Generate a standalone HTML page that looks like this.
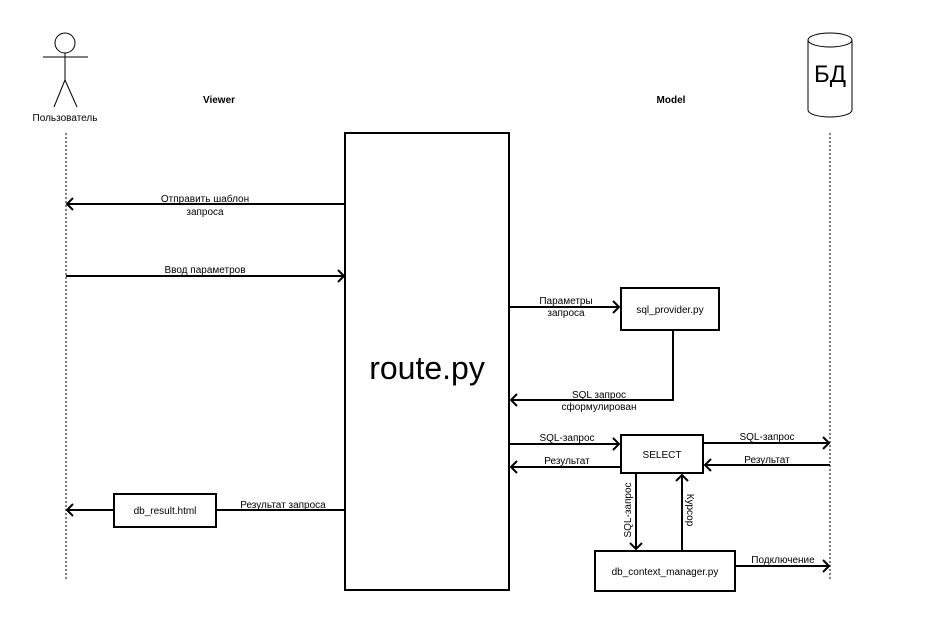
<!DOCTYPE html>
<html><head><meta charset="utf-8"><style>body{margin:0;background:#fff}svg{display:block}text{font-family:"Liberation Sans","DejaVu Sans",sans-serif;font-size:10px;fill:#000}</style></head><body>
<svg width="929" height="637" viewBox="0 0 929 637" xmlns="http://www.w3.org/2000/svg">
<g stroke="#000" fill="none">
<circle cx="65" cy="43" r="10"/>
<line x1="65" y1="53" x2="65" y2="80"/><line x1="43" y1="57" x2="88" y2="57"/>
<line x1="65" y1="80" x2="54" y2="107"/><line x1="65" y1="80" x2="77" y2="107"/>
<line x1="66" y1="133" x2="66" y2="580" stroke-dasharray="2,2"/>
<line x1="830" y1="133" x2="830" y2="580" stroke-dasharray="2,2"/>
<path d="M808 40 A22 7 0 0 1 852 40 L852 110 A22 7 0 0 1 808 110 Z"/>
<path d="M808 40 A22 7 0 0 0 852 40"/>
</g>
<g stroke="#000" stroke-width="2" fill="none">
<rect x="345" y="133" width="164" height="457" fill="#fff"/>
<rect x="621" y="288" width="98" height="42"/>
<rect x="621" y="435" width="82" height="38"/>
<rect x="595" y="551" width="140" height="40"/>
<rect x="114" y="494" width="102" height="33"/>
<line x1="345" y1="204" x2="67" y2="204"/><path d="M73 198 L67 204 L73 210"/>
<line x1="66" y1="276" x2="344" y2="276"/><path d="M338 270 L344 276 L338 282"/>
<line x1="509" y1="307" x2="619" y2="307"/><path d="M613 301 L619 307 L613 313"/>
<path d="M673 330 L673 400 L511 400"/><path d="M517 394 L511 400 L517 406"/>
<line x1="509" y1="444" x2="619" y2="444"/><path d="M613 438 L619 444 L613 450"/>
<line x1="621" y1="467" x2="511" y2="467"/><path d="M517 461 L511 467 L517 473"/>
<line x1="703" y1="443" x2="829" y2="443"/><path d="M823 437 L829 443 L823 449"/>
<line x1="830" y1="465" x2="705" y2="465"/><path d="M711 459 L705 465 L711 471"/>
<line x1="636" y1="473" x2="636" y2="549"/><path d="M630 543 L636 549 L642 543"/>
<line x1="682" y1="551" x2="682" y2="475"/><path d="M676 481 L682 475 L688 481"/>
<line x1="735" y1="566" x2="829" y2="566"/><path d="M823 560 L829 566 L823 572"/>
<line x1="345" y1="510" x2="216" y2="510"/>
<line x1="114" y1="510" x2="67" y2="510"/><path d="M73 504 L67 510 L73 516"/>
</g>
<g text-anchor="middle">
<text x="65" y="121">Пользователь</text>
<text x="219" y="103" font-weight="bold">Viewer</text>
<text x="671" y="103" font-weight="bold">Model</text>
<text x="830" y="82" style="font-size:24px">БД</text>
<text x="427" y="379" style="font-size:32px">route.py</text>
<text x="205" y="202">Отправить шаблон</text><text x="205" y="215">запроса</text>
<text x="205" y="273">Ввод параметров</text>
<text x="566" y="304">Параметры</text><text x="566" y="316">запроса</text>
<text x="670" y="313">sql_provider.py</text>
<text x="599" y="398">SQL запрос</text><text x="599" y="410">сформулирован</text>
<text x="567" y="441">SQL-запрос</text>
<text x="567" y="464">Результат</text>
<text x="767" y="440">SQL-запрос</text>
<text x="767" y="463">Результат</text>
<text x="662" y="458">SELECT</text>
<text x="665" y="575">db_context_manager.py</text>
<text x="783" y="563">Подключение</text>
<text x="165" y="514">db_result.html</text>
<text x="283" y="508">Результат запроса</text>
<text transform="translate(631,510) rotate(-90)">SQL-запрос</text>
<text transform="translate(687,510) rotate(90)">Курсор</text>
</g>
</svg>
</body></html>
